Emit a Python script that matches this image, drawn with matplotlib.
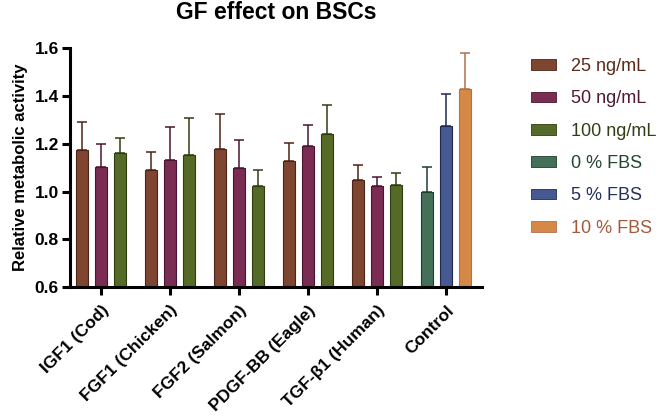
import numpy as np
import matplotlib
matplotlib.use("Agg")
import matplotlib.pyplot as plt
from matplotlib.patches import Patch

plt.rcParams['font.family'] = ['Liberation Sans', 'DejaVu Sans']

grupos = ['IGF1 (Cod)', 'FGF1 (Chicken)', 'FGF2 (Salmon)', 'PDGF-BB (Eagle)', 'TGF-β1 (Human)', 'Control']

# GF groups: 25 / 50 / 100 ng/mL
media_25 = [1.172, 1.092, 1.177, 1.127, 1.048]
erro_25 = [0.120, 0.072, 0.147, 0.077, 0.061]
media_50 = [1.103, 1.130, 1.097, 1.191, 1.023]
erro_50 = [0.097, 0.138, 0.117, 0.086, 0.039]
media_100 = [1.161, 1.152, 1.023, 1.239, 1.027]
erro_100 = [0.061, 0.154, 0.068, 0.121, 0.051]

# Control group: 0 / 5 / 10 % FBS
media_fbs = [0.996, 1.274, 1.430]
erro_fbs = [0.105, 0.135, 0.148]

rotulos = ['25 ng/mL', '50 ng/mL', '100 ng/mL', '0 % FBS', '5 % FBS', '10 % FBS']
cores = ['#7e4530', '#7a2c52', '#566a27', '#44705a', '#465a91', '#d68846']
cores_borda = ['#4e2416', '#4a1530', '#2f3d12', '#1f3d2c', '#1e2a50', '#b27050']
cores_texto = ['#5a2a1a', '#4e1a34', '#2f4014', '#22452f', '#22305a', '#a4593a']

fig = plt.figure(figsize=(6.6, 4.18), dpi=100)
ax = fig.add_axes([0.106, 0.313, 0.624, 0.572])

largura = 0.174
passo = 0.275
x = np.arange(len(grupos))

series = [(media_25, erro_25), (media_50, erro_50), (media_100, erro_100)]
for i, (m, e) in enumerate(series):
    pos = x[:5] + (i - 1) * passo
    ax.bar(pos, np.array(m) - 0.6, largura, bottom=0.6, color=cores[i],
           edgecolor=cores_borda[i], linewidth=0.8, zorder=2)
    ax.errorbar(pos, m, yerr=[np.zeros(5), e], fmt='none', ecolor=cores_borda[i],
                elinewidth=1.1, capsize=3.5, capthick=1.1, zorder=1)

for j in range(3):
    pos = x[5] + (j - 1) * passo
    ax.bar(pos, media_fbs[j] - 0.6, largura, bottom=0.6, color=cores[3 + j],
           edgecolor=cores_borda[3 + j], linewidth=0.8, zorder=2)
    ax.errorbar(pos, media_fbs[j], yerr=[[0], [erro_fbs[j]]], fmt='none',
                ecolor=cores_borda[3 + j], elinewidth=1.1, capsize=3.5, capthick=1.1, zorder=1)

ax.set_xlim(-0.45, 5.52)
ax.set_ylim(0.6, 1.6)
ax.set_yticks([0.6, 0.8, 1.0, 1.2, 1.4, 1.6])
ax.set_yticklabels(['0.6', '0.8', '1.0', '1.2', '1.4', '1.6'], fontsize=12.5, fontweight='bold')
ax.set_xticks(x)
ax.set_xticklabels(grupos, rotation=45, ha='right', rotation_mode='anchor',
                   fontsize=12.5, fontweight='bold')
ax.tick_params(axis='both', width=2.2, length=6, direction='out')
ax.tick_params(axis='x', pad=5)
ax.tick_params(axis='y', pad=2)
for lado in ['top', 'right']:
    ax.spines[lado].set_visible(False)
for lado in ['left', 'bottom']:
    ax.spines[lado].set_linewidth(2.2)
ax.set_ylabel('Relative metabolic activity', fontsize=12, fontweight='bold', labelpad=5)
fig.text(0.418, 0.97, 'GF effect on BSCs', fontsize=16.5, fontweight='bold',
         ha='center', va='center')

handles = [Patch(facecolor=cores[k], edgecolor=cores_borda[k], linewidth=0.6) for k in range(6)]
fig.legend(handles, rotulos, loc='upper left', bbox_to_anchor=(0.78, 0.90), frameon=False,
           fontsize=13, handlelength=1.4, handleheight=0.55, labelspacing=0.85,
           handletextpad=0.8, labelcolor=cores_texto)

fig.savefig('out.png', dpi=100)
